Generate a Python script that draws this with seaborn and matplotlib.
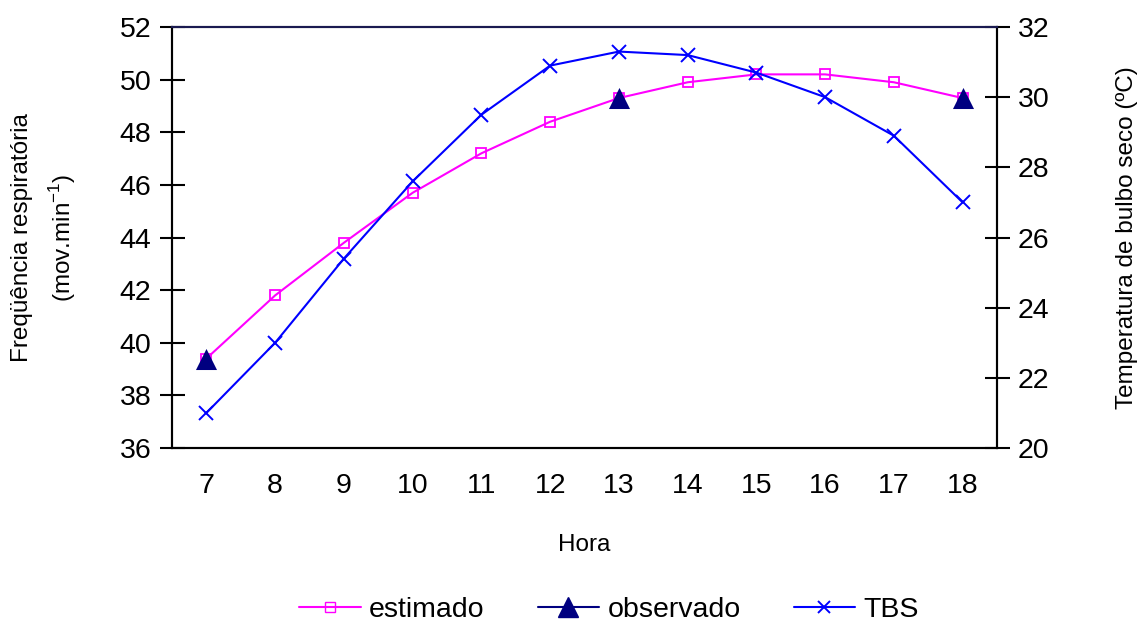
import matplotlib
matplotlib.use("Agg")
import matplotlib.pyplot as plt
from matplotlib.lines import Line2D
import numpy as np
import pandas as pd
import seaborn as sns

# ---- data ----
horas = [7, 8, 9, 10, 11, 12, 13, 14, 15, 16, 17, 18]
estimado = [39.4, 41.8, 43.8, 45.7, 47.2, 48.4, 49.3, 49.9, 50.2, 50.2, 49.9, 49.3]
obs_horas = [7, 13, 18]
observado = [39.4, 49.3, 49.3]
tbs = [21.0, 23.0, 25.4, 27.6, 29.5, 30.9, 31.3, 31.2, 30.7, 30.0, 28.9, 27.0]

left_ticks = [36, 38, 40, 42, 44, 46, 48, 50, 52]
right_ticks = [20, 22, 24, 26, 28, 30, 32]

sns.set_style("white")
plt.rcParams['font.family'] = ['Liberation Sans', 'DejaVu Sans']
plt.rcParams['mathtext.fontset'] = 'custom'
plt.rcParams['mathtext.rm'] = 'Liberation Sans'
for k in ("text.color", "axes.labelcolor", "xtick.color", "ytick.color"):
    plt.rcParams[k] = "black"

MAG = "#FF00FF"
NAVY = "#000080"
BLUE = "#0000FF"

fig = plt.figure(figsize=(11.37, 6.21), dpi=100)
ax = fig.add_axes([0.1513, 0.2786, 0.8769 - 0.1513, 0.9565 - 0.2786])
ax2 = ax.twinx()

df_est = pd.DataFrame({"hora": horas, "v": estimado})
df_obs = pd.DataFrame({"hora": obs_horas, "v": observado})
df_tbs = pd.DataFrame({"hora": horas, "v": tbs})

sns.lineplot(data=df_est, x="hora", y="v", ax=ax, color=MAG, lw=1.5,
             marker="s", markersize=7.5, markerfacecolor="none",
             markeredgecolor=MAG, markeredgewidth=1.3, zorder=3)
sns.lineplot(data=df_tbs, x="hora", y="v", ax=ax2, color=BLUE, lw=1.5,
             marker="x", markersize=9.5, markeredgewidth=1.4, markeredgecolor=BLUE, zorder=3)
sns.scatterplot(data=df_obs, x="hora", y="v", ax=ax, color=NAVY, marker="^",
                s=230, edgecolor=NAVY, linewidth=0, zorder=5)

ax.set_xlim(6.5, 18.5)
ax.set_ylim(36, 52)
ax2.set_ylim(20, 32)
ax.set_yticks(left_ticks)
ax2.set_yticks(right_ticks)
ax.set_xticks(horas)
ax.set_xticks(np.arange(6.5, 18.6, 1.0), minor=True)
ax.tick_params(axis="x", which="major", length=0, labelsize=20.5, pad=18)
ax.tick_params(axis="x", which="minor", length=16, width=1.5, direction="inout", color="black")
ax.tick_params(axis="y", which="major", length=18, width=1.5, direction="inout", labelsize=20.5, pad=6, color="black")
ax2.tick_params(axis="y", which="major", length=18, width=1.5, direction="inout", labelsize=20.5, pad=6, color="black")

for a in (ax, ax2):
    for s in a.spines.values():
        s.set_color("black")
        s.set_linewidth(1.5)
ax2.spines["top"].set_color("#1a1a50")

ax.set_xlabel("Hora", fontsize=17.5, labelpad=25)
ax.set_ylabel("Freqüência respiratória\n(mov.min$^{-1}$)", fontsize=17.5, labelpad=30, linespacing=1.6)
ax2.set_ylabel("Temperatura de bulbo seco (ºC)", fontsize=17.5, labelpad=48)
ax.grid(False)
ax2.grid(False)

handles = [
    Line2D([], [], color=MAG, lw=1.5, marker="s", markersize=7, markerfacecolor="none", markeredgecolor=MAG),
    Line2D([], [], color=NAVY, lw=1.5, marker="^", markersize=15, markerfacecolor=NAVY, markeredgecolor=NAVY),
    Line2D([], [], color=BLUE, lw=1.5, marker="x", markersize=9, markeredgewidth=1.4),
]
fig.legend(handles, ["estimado", "observado", "TBS"], loc="center", bbox_to_anchor=(0.5356, 0.018),
           ncol=3, frameon=False, fontsize=20.5, handlelength=2.17, columnspacing=1.86, handletextpad=0.28,
           borderpad=0.0)

fig.savefig("out.png", dpi=100)
